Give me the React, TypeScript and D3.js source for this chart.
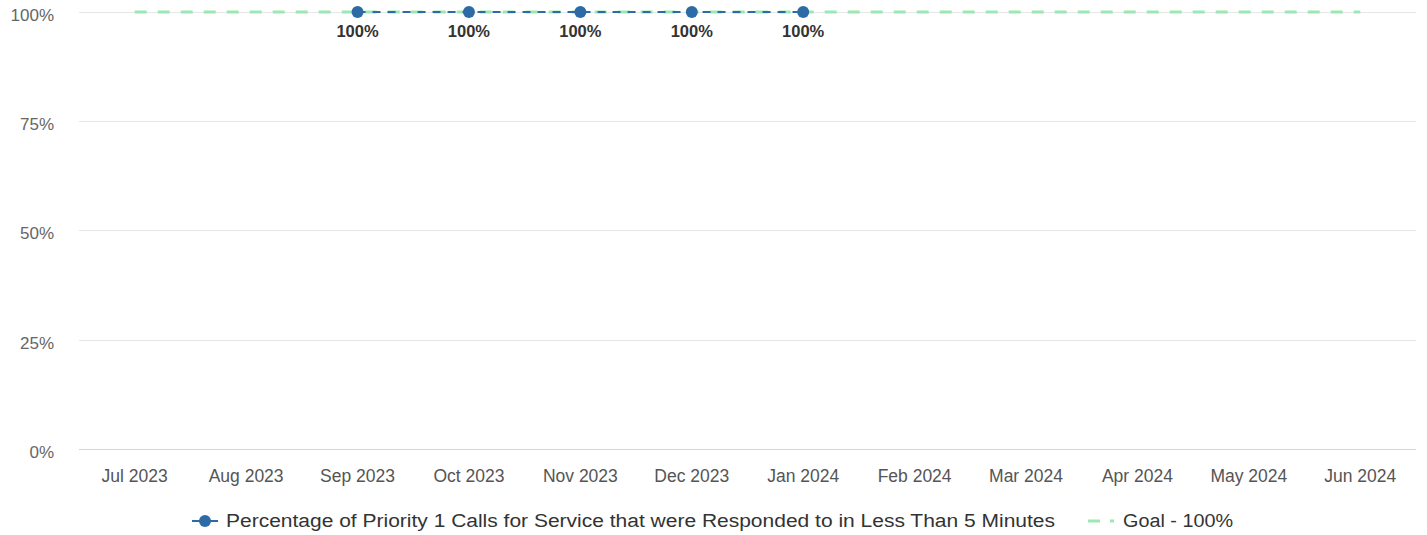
import React, { useEffect, useRef } from "react";
import * as d3 from "d3";

const months = ["Jul 2023", "Aug 2023", "Sep 2023", "Oct 2023", "Nov 2023", "Dec 2023", "Jan 2024", "Feb 2024", "Mar 2024", "Apr 2024", "May 2024", "Jun 2024"];
const actualMonths = ["Sep 2023", "Oct 2023", "Nov 2023", "Dec 2023", "Jan 2024"];
const actualValues = [100, 100, 100, 100, 100];
const goalValues = [100, 100, 100, 100, 100, 100, 100, 100, 100, 100, 100, 100];
const yTicks = [0, 25, 50, 75, 100];
const seriesName = "Percentage of Priority 1 Calls for Service that were Responded to in Less Than 5 Minutes";
const goalName = "Goal - 100%";

const width = 1427;
const height = 535;
const font = "Liberation Sans, Arial, sans-serif";

export default function App() {
  const ref = useRef<SVGSVGElement>(null);

  useEffect(() => {
    const svg = d3.select(ref.current);
    svg.selectAll("*").remove();

    const x = d3.scaleBand().domain(months).range([79, 1416]);
    const y = d3.scaleLinear().domain([0, 100]).range([449, 11.5]);
    const cx = (m: string) => (x(m) as number) + x.bandwidth() / 2;

    // gridlines
    svg.append("g").selectAll("line")
      .data(yTicks.filter(t => t > 0))
      .join("line")
      .attr("x1", 79).attr("x2", 1416)
      .attr("y1", d => Math.round(y(d)) + 0.5).attr("y2", d => Math.round(y(d)) + 0.5)
      .attr("stroke", "#e6e6e6");

    // x axis line
    svg.append("line")
      .attr("x1", 79).attr("x2", 1416)
      .attr("y1", 449.5).attr("y2", 449.5)
      .attr("stroke", "#ccd6eb");

    // y labels
    svg.append("g").selectAll("text")
      .data(yTicks)
      .join("text")
      .attr("x", 54).attr("y", d => y(d) + 9)
      .attr("text-anchor", "end")
      .attr("font-family", font).attr("font-size", 17)
      .attr("fill", "#666666")
      .text(d => d + "%");

    // x labels
    svg.append("g").selectAll("text")
      .data(months)
      .join("text")
      .attr("x", d => cx(d)).attr("y", 482)
      .attr("text-anchor", "middle")
      .attr("font-family", font).attr("font-size", 17.5)
      .attr("fill", "#555555")
      .text(d => d);

    const line = d3.line<[number, number]>().x(d => d[0]).y(d => d[1]);

    // goal line
    svg.append("path")
      .attr("d", line(months.map((m, i) => [cx(m), y(goalValues[i]) + 0.5])))
      .attr("fill", "none")
      .attr("stroke", "#9be8b4")
      .attr("stroke-width", 3)
      .attr("stroke-dasharray", "12,11");

    // actual series
    svg.append("path")
      .attr("d", line(actualMonths.map((m, i) => [cx(m), y(actualValues[i]) + 0.5])))
      .attr("fill", "none")
      .attr("stroke", "#2c6ba5")
      .attr("stroke-width", 2)
      .attr("stroke-dasharray", "8,7");

    svg.append("g").selectAll("circle")
      .data(actualMonths)
      .join("circle")
      .attr("cx", d => cx(d))
      .attr("cy", (d, i) => y(actualValues[i]) + 0.5)
      .attr("r", 6)
      .attr("fill", "#2c6ba5");

    svg.append("g").selectAll("text")
      .data(actualMonths)
      .join("text")
      .attr("x", d => cx(d))
      .attr("y", (d, i) => y(actualValues[i]) + 25.5)
      .attr("text-anchor", "middle")
      .attr("font-family", font).attr("font-size", 16.5).attr("font-weight", "bold")
      .attr("fill", "#333333")
      .text((d, i) => actualValues[i] + "%");

    // legend
    const lg = svg.append("g");
    lg.append("line").attr("x1", 192).attr("x2", 218).attr("y1", 521).attr("y2", 521)
      .attr("stroke", "#2c6ba5").attr("stroke-width", 2);
    lg.append("circle").attr("cx", 205).attr("cy", 521).attr("r", 6).attr("fill", "#2c6ba5");
    lg.append("text").attr("x", 226).attr("y", 527)
      .attr("font-family", font).attr("font-size", 18).attr("fill", "#333333")
      .attr("textLength", 829).attr("lengthAdjust", "spacingAndGlyphs")
      .text(seriesName);
    lg.append("line").attr("x1", 1088).attr("x2", 1114).attr("y1", 521).attr("y2", 521)
      .attr("stroke", "#9be8b4").attr("stroke-width", 3).attr("stroke-dasharray", "12,10");
    lg.append("text").attr("x", 1123).attr("y", 527)
      .attr("font-family", font).attr("font-size", 18).attr("fill", "#333333")
      .attr("textLength", 110).attr("lengthAdjust", "spacingAndGlyphs")
      .text(goalName);
  }, []);

  return <svg ref={ref} width={width} height={height} style={{ position: "absolute", left: 0, top: 0 }}></svg>;
}
